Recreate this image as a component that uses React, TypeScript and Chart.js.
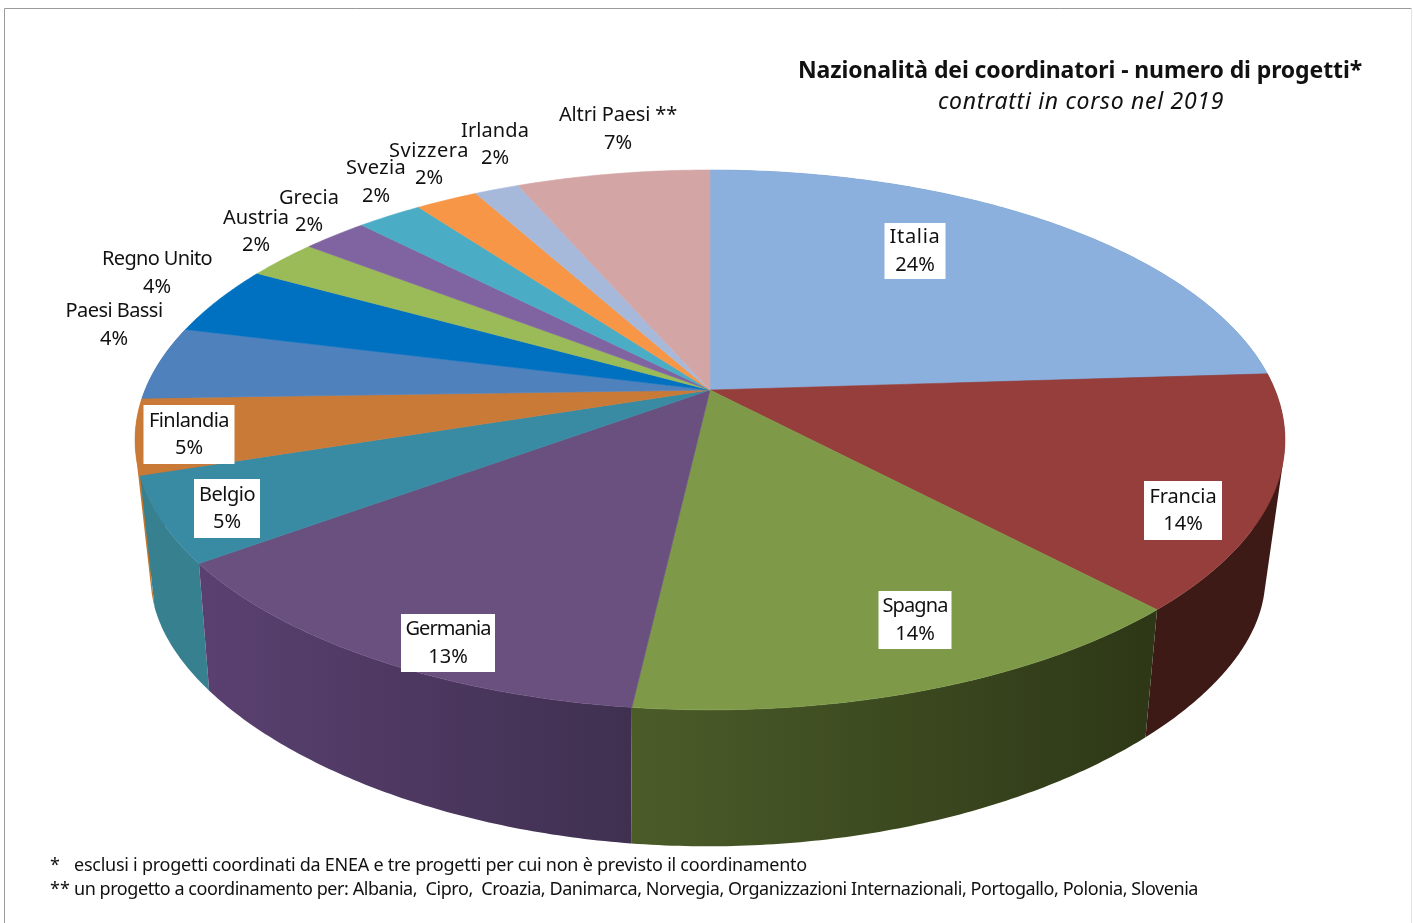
import React, { useEffect, useRef } from "react";
import { Chart, registerables } from "chart.js";

Chart.register(...registerables);

const categories = ["Italia", "Francia", "Spagna", "Germania", "Belgio", "Finlandia", "Paesi Bassi", "Regno Unito", "Austria", "Grecia", "Svezia", "Svizzera", "Irlanda", "Altri Paesi **"];
const values = [24.0, 14.0, 13.8, 13.1, 5.1, 4.5, 4.4, 4.2, 2.4, 2.2, 2.2, 2.1, 1.5, 6.5];
const topColors = ["#8CB0DD", "#963E3C", "#7E9A48", "#69507F", "#398AA3", "#C97A37", "#4F81BD", "#0070C0", "#9BBB59", "#8064A2", "#4BACC6", "#F79646", "#A7B9DB", "#D4A5A5"];
const wallLeft = ["#5A7A9C", "#3E1A16", "#4B5C29", "#5A4070", "#37808F", "#C4762E", "#3E6590", "#005590", "#748C42", "#604B7A", "#388194", "#B97034", "#7D8BA4", "#9F7C7C"];
const wallRight = ["#5A7A9C", "#3E1A16", "#2E3817", "#3F3050", "#37808F", "#C4762E", "#3E6590", "#005590", "#748C42", "#604B7A", "#388194", "#B97034", "#7D8BA4", "#9F7C7C"];
const titleText = "Nazionalità dei coordinatori - numero di progetti*";
const subtitleText = "contratti in corso nel 2019";
const noteMarks = ["*", "**"];
const notes = [
  "esclusi i progetti coordinati da ENEA e tre progetti per cui non è previsto il coordinamento",
  "un progetto a coordinamento per: Albania,  Cipro,  Croazia, Danimarca, Norvegia, Organizzazioni Internazionali, Portogallo, Polonia, Slovenia",
];

// label layout: centre x, y of first line, y of second line, boxed?, box w, box h, name width
const labelLayout: [number, number, number, boolean, number, number, number][] = [
  [915, 237, 265, true, 61, 56, 51],
  [1183, 497, 524, true, 78, 59, 67],
  [915, 606, 634, true, 73, 58, 65],
  [448, 629, 657, true, 94, 58, 85],
  [227, 495, 522, true, 66, 59, 56],
  [189, 421, 448, true, 91, 59, 80],
  [114, 311, 339, false, 0, 0, 97],
  [157, 259, 287, false, 0, 0, 110],
  [256, 218, 245, false, 0, 0, 66],
  [309, 198, 225, false, 0, 0, 60],
  [376, 168, 196, false, 0, 0, 60],
  [429, 151, 178, false, 0, 0, 80],
  [495, 131, 158, false, 0, 0, 68],
  [618, 115, 143, false, 0, 0, 118],
];

const FONT = '"Noto Sans", sans-serif';
const upper = { cx: 710, cy: 390, rx: 565, ry: 260.7, kx: 0.185, ky: 0.185 };
const lower = { cx: 708, cy: 532, rx: 546, ry: 220, kx: 0.2, ky: 0.3 };
type Rim = typeof upper;
type Pt = [number, number];

function project(r: Rim, t: number): Pt {
  const s = Math.sin(t);
  return [r.cx + (r.rx * Math.cos(t)) / (1 - r.kx * s), r.cy + (r.ry * s) / (1 - r.ky * s)];
}

function samples(a: number, b: number): number[] {
  const n = Math.max(2, Math.ceil((b - a) / 0.01));
  const out: number[] = [];
  for (let i = 0; i <= n; i++) out.push(a + ((b - a) * i) / n);
  return out;
}

// Draws text so that it spans the wanted width, by adjusting the letter spacing.
function fitText(ctx: any, text: string, x: number, y: number, width: number) {
  ctx.letterSpacing = "0px";
  const natural = ctx.measureText(text).width;
  ctx.letterSpacing = `${(width - natural) / text.length}px`;
  ctx.fillText(text, x, y);
  ctx.letterSpacing = "0px";
}

function addQuad(ctx: CanvasRenderingContext2D, q: Pt[]) {
  let area = 0;
  q.forEach((p, i) => {
    const n = q[(i + 1) % q.length];
    area += p[0] * n[1] - n[0] * p[1];
  });
  const pts = area < 0 ? [...q].reverse() : q;
  pts.forEach((p, i) => (i ? ctx.lineTo(p[0], p[1]) : ctx.moveTo(p[0], p[1])));
  ctx.closePath();
}

const pie3d = {
  id: "pie3d",
  beforeDatasetDraw() {
    return false;
  },
  afterDatasetsDraw(chart: any) {
    const ctx: CanvasRenderingContext2D = chart.ctx;
    const arcs = chart.getDatasetMeta(0).data as any[];
    ctx.save();

    // frame
    ctx.strokeStyle = "#9a9a9a";
    ctx.lineWidth = 1;
    ctx.beginPath();
    ctx.moveTo(4.5, 923);
    ctx.lineTo(4.5, 8.5);
    ctx.lineTo(1411.5, 8.5);
    ctx.stroke();
    ctx.strokeStyle = "#e2e2e2";
    ctx.beginPath();
    ctx.moveTo(1411.5, 8.5);
    ctx.lineTo(1411.5, 923);
    ctx.stroke();

    // side walls, back to front
    const order = arcs
      .map((arc, i) => {
        const ts = samples(arc.startAngle, arc.endAngle);
        return { i, ts, depth: Math.max(...ts.map((t) => Math.sin(t))) };
      })
      .filter((o) => o.depth > -0.2)
      .sort((a, b) => a.depth - b.depth);
    for (const { i, ts } of order) {
      const top = ts.map((t) => project(upper, t));
      const bottom = ts.map((t) => project(lower, t));
      const xs = bottom.map((p) => p[0]);
      const grad = ctx.createLinearGradient(Math.min(...xs), 0, Math.max(...xs), 0);
      grad.addColorStop(0, wallLeft[i]);
      grad.addColorStop(1, wallRight[i]);
      ctx.fillStyle = grad;
      ctx.beginPath();
      for (let j = 0; j + 1 < ts.length; j++) {
        addQuad(ctx, [top[j], top[j + 1], bottom[j + 1], bottom[j]]);
      }
      ctx.fill("nonzero");
    }

    // top face
    arcs.forEach((arc) => {
      const ts = samples(arc.startAngle, arc.endAngle);
      ctx.fillStyle = arc.options.backgroundColor;
      ctx.strokeStyle = arc.options.backgroundColor;
      ctx.lineWidth = 0.6;
      ctx.beginPath();
      ctx.moveTo(upper.cx, upper.cy);
      ts.forEach((t) => {
        const p = project(upper, t);
        ctx.lineTo(p[0], p[1]);
      });
      ctx.closePath();
      ctx.fill();
      ctx.stroke();
    });

    // data labels
    const total = values.reduce((s, v) => s + v, 0);
    ctx.textAlign = "center";
    ctx.textBaseline = "middle";
    ctx.font = `20px ${FONT}`;
    categories.forEach((name, i) => {
      const [x, y1, y2, boxed, bw, bh, nameWidth] = labelLayout[i];
      if (boxed) {
        ctx.fillStyle = "#ffffff";
        ctx.fillRect(x - bw / 2, (y1 + y2) / 2 - bh / 2, bw, bh);
      }
      ctx.fillStyle = "#111111";
      fitText(ctx, name, x, y1, nameWidth);
      ctx.fillText(`${Math.round((values[i] / total) * 100)}%`, x, y2);
    });

    // title block
    ctx.textAlign = "left";
    ctx.font = `bold 23px ${FONT}`;
    fitText(ctx, titleText, 798, 71, 564);
    ctx.font = `italic 23px ${FONT}`;
    fitText(ctx, subtitleText, 938, 102, 286);

    // notes
    ctx.font = `18px ${FONT}`;
    ctx.fillText(noteMarks[0], 50, 866);
    ctx.fillText(noteMarks[1], 50, 890);
    fitText(ctx, notes[0], 74, 866, 733);
    fitText(ctx, notes[1], 74, 890, 1124);
    ctx.restore();
  },
};

export default function App() {
  const ref = useRef<HTMLCanvasElement>(null);
  useEffect(() => {
    const chart = new Chart(ref.current as HTMLCanvasElement, {
      type: "pie",
      data: {
        labels: categories,
        datasets: [{ data: values, backgroundColor: topColors, borderWidth: 0 }],
      },
      options: {
        animation: false,
        responsive: false,
        devicePixelRatio: 1,
        plugins: { legend: { display: false }, tooltip: { enabled: false }, title: { display: false } },
      },
      plugins: [pie3d],
    } as any);
    return () => chart.destroy();
  }, []);
  return (
    <div style={{ position: "absolute", left: 0, top: 0, width: 1413, height: 923, background: "#fff" }}>
      <canvas ref={ref} width={1413} height={923} style={{ display: "block" }} />
    </div>
  );
}
